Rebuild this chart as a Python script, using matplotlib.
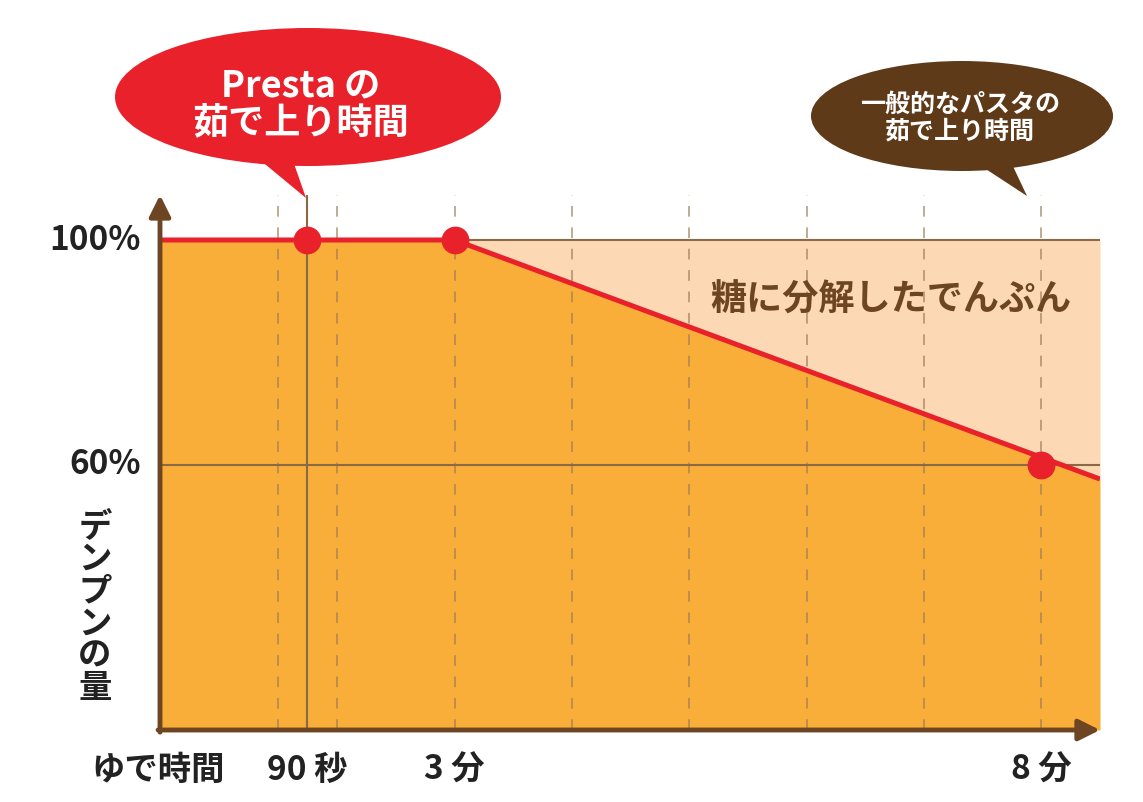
import numpy as np
import matplotlib
matplotlib.use("Agg")
import matplotlib.pyplot as plt
from matplotlib.patches import Ellipse, Polygon

plt.rcParams['font.family'] = ['Noto Sans CJK JP', 'DejaVu Sans']

# ---- data ----
line_time = [0, 3, 8.5]          # minutes
line_starch = [100, 100, 57.5]   # % starch remaining
marker_time = [1.5, 3, 8]
marker_starch = [100, 100, 60]
grid_times = [1.2, 1.8, 3, 4, 5, 6, 7, 8]
xtick_pos = [1.5, 3, 8]
xtick_labels = ["90 秒", "3 分", "8 分"]
ytick_pos = [100, 60]
ytick_labels = ["100%", "60%"]
ylabel = "デンプンの量"
xlabel = "ゆで時間"
area_label = "糖に分解したでんぷん"
bubble_presta = "Presta の\n茹で上り時間"
bubble_general = "一般的なパスタの\n茹で上り時間"

# colours
ORANGE = "#F9AE3A"
PEACH = "#FCD8B4"
RED = "#E8212B"
BROWN = "#6E4522"
GRIDC = "#9A7A55"
BUBBLE_BROWN = "#5E3A18"

W, H = 1143, 802
fig = plt.figure(figsize=(W / 100, H / 100), dpi=100)

def fx(px):
    return px / W

def fy(py):
    return 1 - py / H

ax_l, ax_r, ax_t, ax_b = 160, 1100, 195, 730
ax = fig.add_axes([fx(ax_l), fy(ax_b), fx(ax_r - ax_l), (ax_b - ax_t) / H])

# illustrative time axis: first 3 min compressed relative to the rest
k = 117.5 / 98.3
def fwd(x):
    x = np.asarray(x, dtype=float)
    return np.where(x <= 3, x, 3 + (x - 3) * k)
def inv(u):
    u = np.asarray(u, dtype=float)
    return np.where(u <= 3, u, 3 + (u - 3) / k)
ax.set_xscale('function', functions=(fwd, inv))

ymin = 100 - (ax_b - 240) / 5.625
ymax = 100 + (240 - ax_t) / 5.625
ax.set_xlim(0, 8.5)
ax.set_ylim(ymin, ymax)

# fills
xs = np.array(line_time)
ys = np.array(line_starch)
ax.fill_between(xs, ymin, ys, color=ORANGE, lw=0, zorder=1)
ax.fill_between(xs, ys, 100, where=xs >= 3, color=PEACH, lw=0, zorder=1)

# grid
for gt in grid_times:
    ax.axvline(gt, color=GRIDC, lw=1.1, ls=(0, (7, 7)), alpha=0.8, zorder=2)
ax.axvline(1.5, color="#8A6A45", lw=1.5, zorder=2)
for yv in ytick_pos:
    ax.axhline(yv, color="#8A6A45", lw=1.5, zorder=2)

# main line and markers
ax.plot(line_time, line_starch, color=RED, lw=3.6, zorder=4, solid_capstyle='butt')
ax.plot(marker_time, marker_starch, 'o', color=RED, ms=20, mec='none', zorder=5)

# axes spines as arrows
for s in ax.spines.values():
    s.set_visible(False)
ax.set_xticks([])
ax.set_yticks([])
ax.annotate('', xy=(0, 1.0), xytext=(0, -0.004), xycoords='axes fraction',
            arrowprops=dict(arrowstyle='-|>', color=BROWN, lw=3.5, mutation_scale=32,
                            shrinkA=0, shrinkB=0), zorder=6)
ax.annotate('', xy=(1.0, 0), xytext=(-0.002, 0), xycoords='axes fraction',
            arrowprops=dict(arrowstyle='-|>', color=BROWN, lw=3.5, mutation_scale=32,
                            shrinkA=0, shrinkB=0), zorder=6)

# tick labels
tfont = dict(fontsize=24, fontweight='bold', color='#222222')
for yp, lab in zip(ytick_pos, ytick_labels):
    ax.text(-0.02, yp, lab, transform=ax.get_yaxis_transform(), ha='right', va='center', **tfont)
for xp, lab in zip(xtick_pos, xtick_labels):
    ax.text(xp, -0.075, lab, transform=ax.get_xaxis_transform(), ha='center', va='center', **tfont)
fig.text(fx(158), fy(770), xlabel, ha='center', va='center', **tfont)
fig.text(fx(95), fy(608), "\n".join(ylabel), ha='center', va='center', linespacing=0.97,
         fontsize=24, fontweight='bold', color='#222222')

# area label
ax.text(6.72, 89.3, area_label, ha='center', va='center', fontsize=26, fontweight='bold',
        color=BROWN, zorder=6)

# speech bubbles
red_el = Ellipse((fx(308), fy(97)), fx(386), 138 / H, transform=fig.transFigure,
                 facecolor=RED, edgecolor='none')
fig.add_artist(red_el)
red_tail = Polygon([(fx(248), fy(150)), (fx(292), fy(158)), (fx(306), fy(198))],
                   closed=True, transform=fig.transFigure, facecolor=RED, edgecolor='none')
fig.add_artist(red_tail)
fig.text(fx(301), fy(104), bubble_presta, ha='center', va='center', fontsize=26,
         fontweight='bold', color='white', linespacing=1.0)

br_el = Ellipse((fx(962), fy(116)), fx(302), 110 / H, transform=fig.transFigure,
                facecolor=BUBBLE_BROWN, edgecolor='none')
fig.add_artist(br_el)
br_tail = Polygon([(fx(972), fy(160)), (fx(1010), fy(160)), (fx(1027), fy(196))],
                  closed=True, transform=fig.transFigure, facecolor=BUBBLE_BROWN, edgecolor='none')
fig.add_artist(br_tail)
fig.text(fx(960), fy(118), bubble_general, ha='center', va='center', fontsize=18,
         fontweight='bold', color='white', linespacing=1.15)

fig.savefig("out.png", dpi=100)
